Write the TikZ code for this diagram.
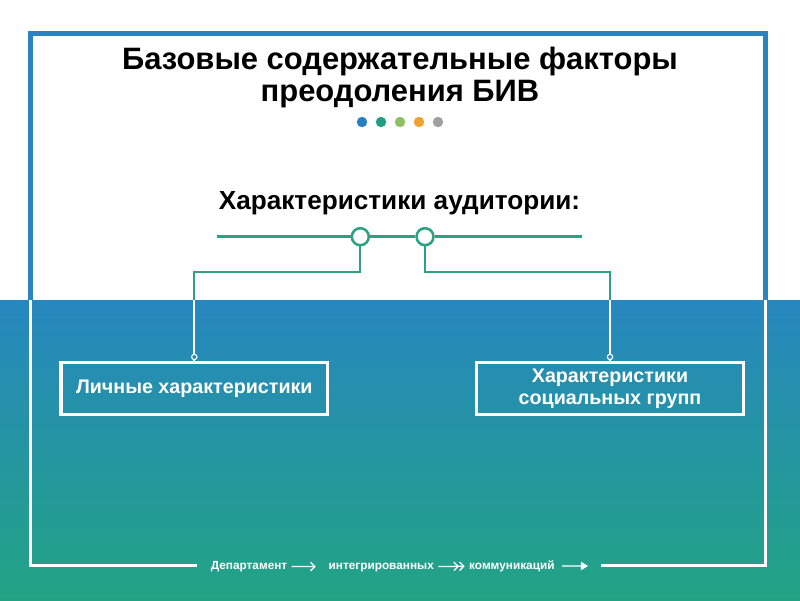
\documentclass[tikz,border=0pt]{standalone}
\usepackage{fontspec}
\setmainfont{Liberation Sans}
\usetikzlibrary{positioning, arrows.meta, calc}
\definecolor{skyblue}{RGB}{39,135,191}
\definecolor{seagreen}{RGB}{34,164,132}
\definecolor{frameblue}{RGB}{42,132,192}
\definecolor{linkteal}{RGB}{43,163,128}
\definecolor{dotblue}{RGB}{38,128,192}
\definecolor{dotteal}{RGB}{31,158,130}
\definecolor{dotgreen}{RGB}{140,192,99}
\definecolor{dotorange}{RGB}{240,160,48}
\definecolor{dotgray}{RGB}{160,160,160}

\begin{document}
\begin{tikzpicture}[x=0.025cm, y=-0.025cm,
        heading/.style={text=black, align=center, inner sep=0pt, font=\fontsize{22}{22.3}\selectfont\bfseries},
        subheading/.style={text=black, inner sep=0pt, font=\fontsize{18.6}{19}\selectfont\bfseries},
        factor/.style={rectangle, draw=white, line width=2.3pt, text=white, align=center, minimum width=6.66cm, minimum height=1.295cm, inner sep=0pt, font=\fontsize{14}{14}\selectfont\bfseries},
        hub/.style={circle, draw=linkteal, fill=white, line width=1.8pt, minimum size=0.425cm, inner sep=0pt},
        tip/.style={circle, draw=white, fill=skyblue, line width=0.8pt, minimum size=3.8pt, inner sep=0pt},
        bar/.style={draw=linkteal, line width=1.9pt},
        link/.style={draw=linkteal, line width=1.4pt},
        foot/.style={text=white, inner sep=1pt, font=\fontsize{8.4}{9}\selectfont\bfseries},
        footarrow/.style={draw=white, line width=0.9pt}]

    % background and frame
    \useasboundingbox (0,0) rectangle (800,600);
    \fill[white] (0,0) rectangle (800,300);
    \shade[top color=skyblue, bottom color=seagreen] (0,300) rectangle (800,600);

    \node[foot, anchor=base] (dep) at (249,569) {Департамент};
    \node[foot, base right=0.95cm of dep] (integ) {интегрированных};
    \node[foot, base right=0.8cm of integ] (comm) {коммуникаций};
    \coordinate (footend) at (588,566);
    \draw[footarrow, -{Straight Barb[length=3pt, width=6pt]}, shorten <=2pt, shorten >=8pt] (dep) -- (integ);
    \draw[footarrow, -{Straight Barb[length=3pt, width=6pt] Straight Barb[length=3pt, width=6pt]}, shorten <=2pt, shorten >=2pt] (integ) -- (comm);
    \draw[footarrow, -{Triangle[length=5pt, width=6pt]}, shorten <=4pt] (comm) -- (footend);

    \coordinate (frameL) at (197,565.5);
    \coordinate (frameR) at (601,565.5);
    \begin{scope}
        \clip (0,0) rectangle (800,300);
        \draw[frameblue, line width=3.6pt] (frameL) -| (30.5,33.5) -| (765.5,565.5) -- (frameR);
    \end{scope}
    \begin{scope}
        \clip (0,300) rectangle (800,600);
        \draw[white, line width=2.8pt] (frameL) -| (30.5,33.5) -| (765.5,565.5) -- (frameR);
    \end{scope}

    % titles
    \node[heading, anchor=north] (title) at (400,47) {Базовые содержательные факторы\\преодоления БИВ};
    \foreach \c [count=\i] in {dotblue, dotteal, dotgreen, dotorange, dotgray}
        \fill[\c] (343+19*\i,122) circle[radius=3.7pt];
    \node[subheading, anchor=base] (aud) at (399.5,209) {Характеристики аудитории:};

    % bar with hubs
    \coordinate (barL) at (217,236.7);
    \coordinate (barR) at (582,236.7);
    \node[hub] (hubL) at (360.3,236.7) {};
    \node[hub] (hubR) at (425,236.7) {};
    \draw[bar] (barL) -- (hubL) -- (hubR) -- (barR);

    % factors
    \node[factor] (personal) at (194.3,388.4) {Личные характеристики};
    \node[factor] (social) at (610,388.4) {Характеристики\\[1.5pt]социальных групп};

    \draw[link] (hubL.south) -- ++(0,26) -| (personal.north);
    \draw[link] (hubR.south) -- ++(0,26) -| (social.north);
    \begin{scope}
        \clip (0,300) rectangle (800,600);
        \draw[link, draw=white] (hubL.south) -- ++(0,26) -| (personal.north);
        \draw[link, draw=white] (hubR.south) -- ++(0,26) -| (social.north);
    \end{scope}
    \node[tip, anchor=south] (tipL) at ([yshift=0.5pt]personal.north) {};
    \node[tip, anchor=south] (tipR) at ([yshift=0.5pt]social.north) {};
\end{tikzpicture}
\end{document}
